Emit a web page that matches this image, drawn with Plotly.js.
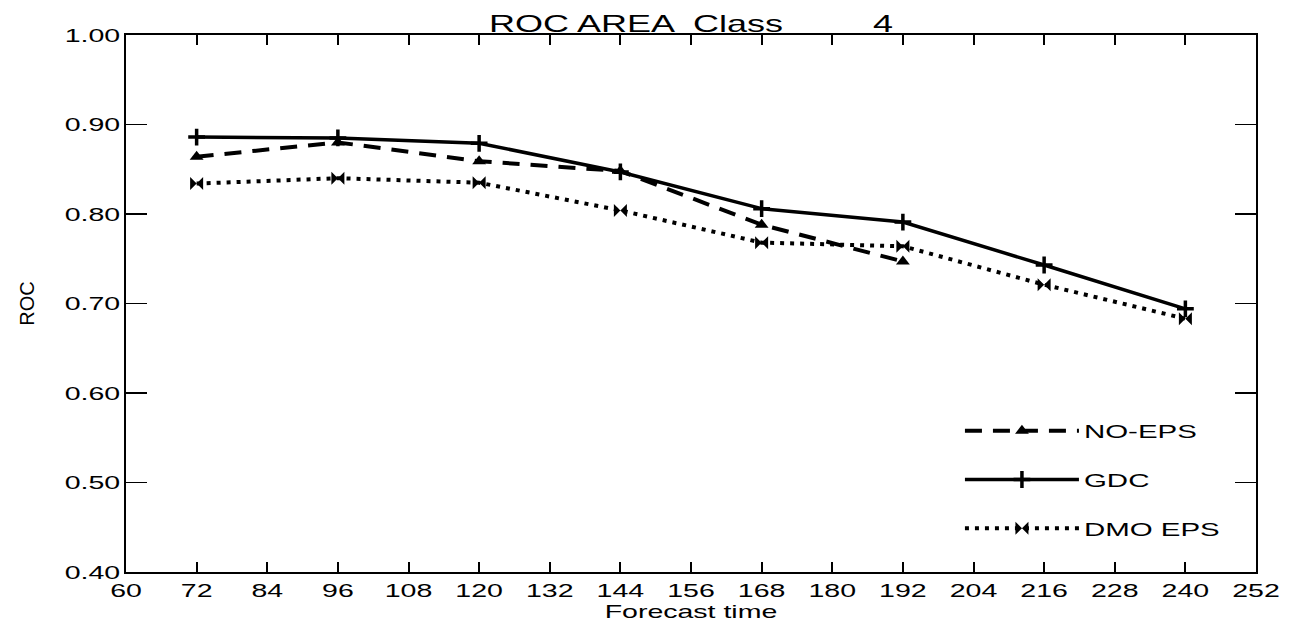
<!DOCTYPE html>
<html>
<head>
<meta charset="utf-8">
<script src="https://cdn.plot.ly/plotly-3.0.1.min.js"></script>
<style>
  html, body { margin: 0; padding: 0; background: #fff; }
  #chart { width: 1289px; height: 626px; }
</style>
</head>
<body>
<div id="chart"></div>
<script>
// Forecast lead times (hours)
const forecastTime = [72, 96, 120, 144, 168, 192, 216, 240];
const noEpsTime = [72, 96, 120, 144, 168, 192];

// ROC area per forecast time, class 4
const noEps = [0.864, 0.880, 0.859, 0.848, 0.788, 0.747];
const gdc = [0.886, 0.885, 0.879, 0.847, 0.806, 0.791, 0.743, 0.694];
const dmoEps = [0.834, 0.840, 0.835, 0.804, 0.768, 0.764, 0.721, 0.683];

const xTicks = [60, 72, 84, 96, 108, 120, 132, 144, 156, 168, 180, 192, 204, 216, 228, 240, 252];
const yTicks = [0.40, 0.50, 0.60, 0.70, 0.80, 0.90, 1.00];

const FONT = 'Liberation Sans, Arial, Helvetica, sans-serif';
// the lettering is set wide; glyphs get stretched horizontally after drawing
const WIDE = 1.5;

const traces = [
  {
    name: 'NO-EPS', x: noEpsTime, y: noEps, mode: 'lines+markers',
    line: { color: '#000', width: 4, dash: '17px,11px' },
    marker: { symbol: 'triangle-up', size: 12, color: '#000' },
    legendgroup: 'a'
  },
  {
    name: 'GDC', x: forecastTime, y: gdc, mode: 'lines+markers',
    line: { color: '#000', width: 3.5 },
    marker: { symbol: 'cross-thin', size: 12, color: '#000', line: { color: '#000', width: 3.5 } },
    legendgroup: 'b'
  },
  {
    name: 'DMO EPS', x: forecastTime, y: dmoEps, mode: 'lines+markers',
    line: { color: '#000', width: 4, dash: '4px,6px' },
    marker: { symbol: 'bowtie', size: 13, color: '#000' },
    legendgroup: 'c'
  }
];

const layout = {
  width: 1289, height: 626,
  margin: { l: 126, r: 33, t: 35, b: 54 },
  paper_bgcolor: '#fff', plot_bgcolor: '#fff',
  font: { family: FONT, color: '#000', size: 19 },
  title: {
    text: 'ROC AREA  Class         4',
    font: { family: FONT, size: 24, color: '#000' },
    x: 0.5, xref: 'paper', xanchor: 'center',
    y: 0.962, yref: 'container', yanchor: 'middle'
  },
  xaxis: {
    range: [60, 252], tickvals: xTicks, ticktext: xTicks.map(String),
    showgrid: false, zeroline: false,
    showline: true, linecolor: '#000', linewidth: 2, mirror: 'ticks',
    ticks: 'inside', ticklen: 10, tickwidth: 2, tickcolor: '#000',
    tickfont: { family: FONT, size: 19 },
    title: { text: 'Forecast time', font: { family: FONT, size: 19 }, standoff: 0 }
  },
  yaxis: {
    range: [0.40, 1.00], tickvals: yTicks, ticktext: yTicks.map(v => v.toFixed(2)),
    showgrid: false, zeroline: false,
    showline: true, linecolor: '#000', linewidth: 2, mirror: 'ticks',
    ticks: 'inside', ticklen: 21, tickwidth: 1.5, tickcolor: '#000',
    tickfont: { family: FONT, size: 19 },
    title: { text: 'ROC', font: { family: FONT, size: 20 }, standoff: 43 }
  },
  showlegend: true,
  legend: {
    x: 0.738, y: 0.298, xanchor: 'left', yanchor: 'top',
    bgcolor: 'rgba(0,0,0,0)', borderwidth: 0,
    font: { family: FONT, size: 19, color: '#000' },
    tracegroupgap: 21, itemwidth: 114
  }
};

function widen(selector, k) {
  document.querySelectorAll(selector).forEach(function (t) {
    const w = t.getComputedTextLength();
    if (w > 0) {
      t.setAttribute('textLength', (w * k).toFixed(1));
      t.setAttribute('lengthAdjust', 'spacingAndGlyphs');
    }
  });
}

Plotly.newPlot('chart', traces, layout, { staticPlot: true, displayModeBar: false })
  .then(function () {
    widen('#chart .xtick text, #chart .ytick text', WIDE);
    widen('#chart .gtitle, #chart .xtitle', WIDE);
    widen('#chart .legendtext', 1.55);
    // wider legend labels must not be cut off by the legend box
    document.querySelectorAll('#chart .legend [clip-path]').forEach(function (el) {
      el.removeAttribute('clip-path');
    });
  });
</script>
</body>
</html>
